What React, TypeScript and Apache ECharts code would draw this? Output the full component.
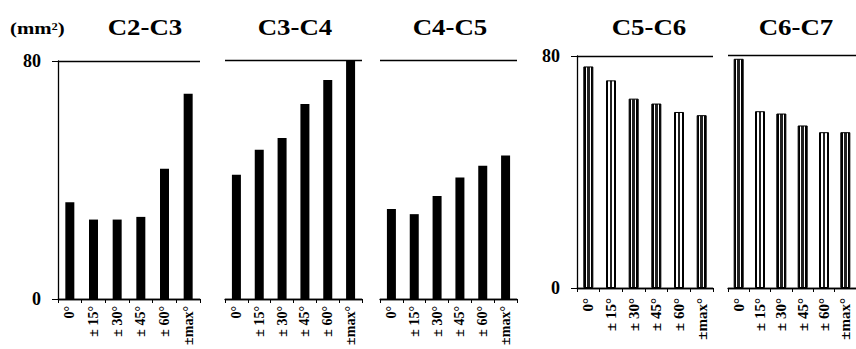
import React, { useEffect, useRef } from "react";
import * as echarts from "echarts";

const categories = ["0°", "± 15°", "± 30°", "± 45°", "± 60°", "±max°"];
const segments = ["C2-C3", "C3-C4", "C4-C5", "C5-C6", "C6-C7"];
const c2c3 = [32.5, 26.7, 26.7, 27.6, 43.8, 69.0];
const c3c4 = [41.6, 50.0, 53.9, 65.3, 73.3, 80.0];
const c4c5 = [30.1, 28.4, 34.5, 40.7, 44.6, 48.0];
const c5c6 = [76.4, 71.6, 65.3, 63.6, 60.7, 59.6];
const c6c7 = [78.7, 60.7, 59.9, 55.8, 53.5, 53.5];
const seriesValues = [c2c3, c3c4, c4c5, c5c6, c6c7];
const yTicks = [0, 80];
const unitLabel = "(mm²)";

const FONT = "Liberation Serif, Times New Roman, Times, serif";

const grids = [
  { left: 58, top: 61, width: 142, height: 238 },
  { left: 225, top: 60, width: 137, height: 239 },
  { left: 380, top: 60, width: 137, height: 239 },
  { left: 577, top: 56, width: 136, height: 232 },
  { left: 728, top: 55, width: 128, height: 233 },
];
const titleX = [145, 295, 450, 649, 796];
const withYAxis = [true, false, false, true, false];
const outlined = [false, false, false, true, true];

export default function App() {
  const ref = useRef<HTMLDivElement>(null);
  useEffect(() => {
    if (!ref.current) return;
    const chart = echarts.init(ref.current, null, { renderer: "svg" });
    const stripe = new echarts.graphic.LinearGradient(0, 0, 1, 0, [
      { offset: 0, color: "#000" },
      { offset: 0.2, color: "#000" },
      { offset: 0.2, color: "#fff" },
      { offset: 0.36, color: "#fff" },
      { offset: 0.36, color: "#222" },
      { offset: 0.64, color: "#222" },
      { offset: 0.64, color: "#fff" },
      { offset: 0.8, color: "#fff" },
      { offset: 0.8, color: "#000" },
      { offset: 1, color: "#000" },
    ]);
    const option: any = {
      animation: false,
      backgroundColor: "#fff",
      grid: grids.map((g) => ({ ...g, containLabel: false, outerBoundsMode: "none" })),
      xAxis: grids.map((_, i) => ({
        type: "category",
        gridIndex: i,
        data: categories,
        boundaryGap: true,
        axisLine: { show: true, lineStyle: { color: "#000", width: 1.3 } },
        axisTick: { show: true, inside: false, length: 4, lineStyle: { color: "#000" } },
        axisLabel: {
          interval: 0,
          rotate: 90,
          margin: i < 3 ? 7 : 10,
          fontFamily: FONT,
          fontWeight: "bold",
          fontSize: i < 3 ? 14 : 15,
          color: "#000",
        },
      })),
      yAxis: grids.map((_, i) => ({
        type: "value",
        gridIndex: i,
        min: yTicks[0],
        max: yTicks[1],
        interval: yTicks[1] - yTicks[0],
        axisLine: { show: withYAxis[i], lineStyle: { color: "#000", width: 1.3 } },
        axisTick: { show: withYAxis[i], inside: false, length: 6, lineStyle: { color: "#000" } },
        axisLabel: {
          show: withYAxis[i],
          margin: 17,
          fontFamily: FONT,
          fontWeight: "bold",
          fontSize: 18,
          color: "#000",
        },
        splitLine: { show: true, lineStyle: { color: "#000", width: 1.3 } },
      })),
      series: seriesValues.map((vals, i) => ({
        type: "bar",
        xAxisIndex: i,
        yAxisIndex: i,
        data: vals,
        barWidth: outlined[i] ? 10 : 9,
        itemStyle: outlined[i]
          ? { color: stripe, borderColor: "#000", borderWidth: 1 }
          : { color: "#000" },
      })),
      graphic: [
        {
          type: "text",
          x: 10,
          y: 28,
          scaleX: 1.3,
          style: {
            text: unitLabel,
            font: `bold 16px ${FONT}`,
            fill: "#000",
            align: "left",
            verticalAlign: "middle",
          },
        },
        ...segments.map((s, i) => ({
          type: "text",
          x: titleX[i],
          y: 27,
          scaleX: 1.12,
          style: {
            text: s,
            font: `bold 24px ${FONT}`,
            fill: "#000",
            align: "center",
            verticalAlign: "middle",
          },
        })),
      ],
    };
    chart.setOption(option);
    return () => chart.dispose();
  }, []);
  return (
    <div
      ref={ref}
      style={{ position: "fixed", left: 0, top: 0, width: 856, height: 349 }}
    />
  );
}
